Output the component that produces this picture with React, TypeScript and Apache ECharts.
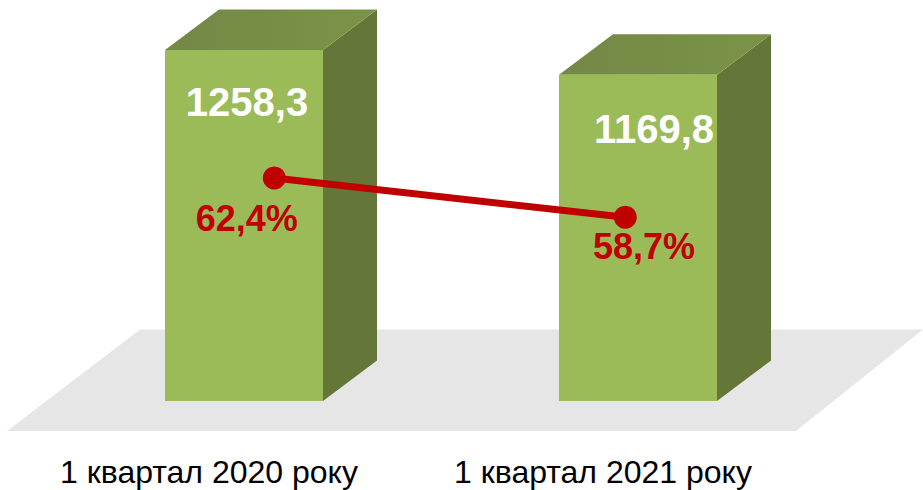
import React, { useEffect, useRef } from "react";
import * as echarts from "echarts";

const categories = ["1 квартал 2020 року", "1 квартал 2021 року"];
const amountValues = [1258.3, 1169.8];
const shareValues = [62.4, 58.7];

const FONT = '"Liberation Sans", Arial, sans-serif';
const BAR_WIDTH = 158;
const BAR_SHIFT = 35;
const DEPTH_X = 54;
const DEPTH_Y = 40.5;
const amountLabelOffsets = [[3, 52], [16, 54]];
const shareLabelOffsets = [[-27.6, 40], [18.7, 29.4]];

const comma = (v: number) => String(v).replace(".", ",");

export default function App() {
  const ref = useRef<HTMLDivElement>(null);
  useEffect(() => {
    document.body.style.margin = "0";
    const chart = echarts.init(ref.current!, null, { renderer: "svg" });
    chart.setOption({
      animation: false,
      backgroundColor: "#ffffff",
      grid: [
        { left: 12, width: 788, top: 10.5, height: 390.5 },
        { left: 98.8, width: 702, top: 44.2, height: 318.6 },
      ],
      xAxis: [
        {
          type: "category",
          gridIndex: 0,
          data: categories,
          axisLine: { show: false },
          axisTick: { show: false },
          axisLabel: { color: "#000000", fontSize: 32, fontFamily: FONT, margin: 55, interval: 0 },
        },
        { type: "category", gridIndex: 1, data: categories, show: false },
      ],
      yAxis: [
        { type: "value", gridIndex: 0, min: 0, max: 1400, show: false, splitLine: { show: false } },
        { type: "value", gridIndex: 1, min: 45, max: 75, show: false, splitLine: { show: false } },
      ],
      graphic: [
        {
          type: "polygon",
          z: 0,
          silent: true,
          shape: { points: [[140, 329.5], [923, 329.5], [796, 431], [7, 431]] },
          style: { fill: "#E6E6E6" },
        },
      ],
      series: [
        {
          type: "custom",
          xAxisIndex: 0,
          yAxisIndex: 0,
          z: 2,
          clip: false,
          data: amountValues.map((v, i) => [i, v]),
          renderItem: (params: any, api: any) => {
            const i = api.value(0);
            const v = api.value(1);
            const top = api.coord([i, v]);
            const base = api.coord([i, 0]);
            const x0 = top[0] + BAR_SHIFT - BAR_WIDTH / 2;
            const x1 = x0 + BAR_WIDTH;
            const yT = top[1];
            const yB = base[1];
            const off = amountLabelOffsets[params.dataIndex];
            return {
              type: "group",
              children: [
                {
                  type: "polygon",
                  shape: { points: [[x1, yT], [x1 + DEPTH_X, yT - DEPTH_Y], [x1 + DEPTH_X, yB - DEPTH_Y], [x1, yB]] },
                  style: { fill: "#657738" },
                },
                {
                  type: "polygon",
                  shape: { points: [[x0, yT], [x0 + DEPTH_X, yT - DEPTH_Y], [x1 + DEPTH_X, yT - DEPTH_Y], [x1, yT]] },
                  style: {
                    fill: new echarts.graphic.LinearGradient(0, 0, 1, 0, [
                      { offset: 0, color: "#738846" },
                      { offset: 1, color: "#7B9348" },
                    ]),
                  },
                },
                {
                  type: "rect",
                  shape: { x: x0, y: yT, width: BAR_WIDTH, height: yB - yT },
                  style: { fill: "#9BBB59" },
                },
                {
                  type: "text",
                  style: {
                    x: x0 + BAR_WIDTH / 2 + off[0],
                    y: yT + off[1],
                    text: comma(v),
                    fill: "#FFFFFF",
                    font: `bold 40px ${FONT}`,
                    align: "center",
                    verticalAlign: "middle",
                  },
                },
              ],
            };
          },
        },
        {
          type: "line",
          xAxisIndex: 1,
          yAxisIndex: 1,
          z: 5,
          symbol: "circle",
          symbolSize: 23,
          lineStyle: { color: "#C00000", width: 7 },
          itemStyle: { color: "#C00000" },
          data: shareValues.map((v, i) => ({
            value: v,
            label: {
              show: true,
              position: "inside",
              offset: shareLabelOffsets[i],
              formatter: `${comma(v)}%`,
              color: "#C00000",
              fontSize: 36,
              fontWeight: "bold",
              fontFamily: FONT,
            },
          })),
        },
      ],
    });
    return () => chart.dispose();
  }, []);
  return <div ref={ref} style={{ width: 923, height: 490 }} />;
}
